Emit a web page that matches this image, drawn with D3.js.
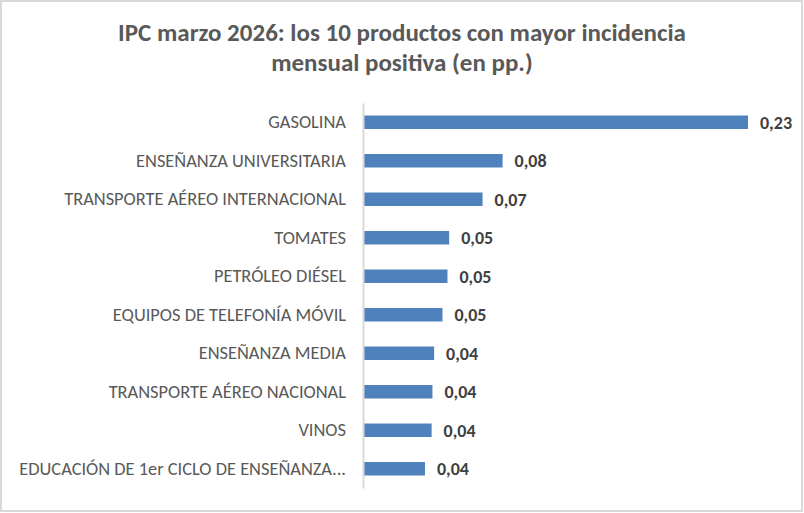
<!DOCTYPE html>
<html>
<head>
<meta charset="utf-8">
<script src="https://cdn.jsdelivr.net/npm/d3@7/dist/d3.min.js"></script>
<style>
  html, body { margin: 0; padding: 0; background: #ffffff; }
  svg { display: block; }
</style>
</head>
<body>
<svg id="chart" width="804" height="513"></svg>
<script>
const titleLines = ["IPC marzo 2026: los 10 productos con mayor incidencia", "mensual positiva (en pp.)"];
const categories = [
  "GASOLINA",
  "ENSEÑANZA UNIVERSITARIA",
  "TRANSPORTE AÉREO INTERNACIONAL",
  "TOMATES",
  "PETRÓLEO DIÉSEL",
  "EQUIPOS DE TELEFONÍA MÓVIL",
  "ENSEÑANZA MEDIA",
  "TRANSPORTE AÉREO NACIONAL",
  "VINOS",
  "EDUCACIÓN DE 1er CICLO DE ENSEÑANZA..."
];
const values = [0.23, 0.083, 0.071, 0.051, 0.050, 0.047, 0.042, 0.041, 0.0405, 0.0365];
const valueLabels = ["0,23", "0,08", "0,07", "0,05", "0,05", "0,05", "0,04", "0,04", "0,04", "0,04"];
const xDomain = [0, 0.25];

const FONT = "Carlito, Calibri, Lato, 'Open Sans', sans-serif";
const svg = d3.select("#chart");

svg.append("rect")
  .attr("x", 1).attr("y", 1).attr("width", 801).attr("height", 510)
  .attr("fill", "#ffffff").attr("stroke", "#d9d9d9").attr("stroke-width", 2);

svg.append("g").selectAll("text").data(titleLines).join("text")
  .attr("x", 402).attr("y", (d, i) => 41 + i * 29.5)
  .attr("text-anchor", "middle")
  .attr("font-family", FONT).attr("font-weight", "bold").attr("font-size", 25)
  .attr("fill", "#595959")
  .text(d => d);

const x = d3.scaleLinear().domain(xDomain).range([364, 781.4]);
const y = d3.scaleBand().domain(categories).range([103, 488]).paddingInner(0.65).paddingOuter(0.325);

const data = categories.map((c, i) => ({ c, v: values[i], l: valueLabels[i] }));

svg.append("g").selectAll("rect").data(data).join("rect")
  .attr("x", x(0)).attr("y", d => y(d.c))
  .attr("width", d => x(d.v) - x(0)).attr("height", y.bandwidth())
  .attr("fill", "#4f81bd");

const axis = svg.append("g").attr("transform", "translate(363,0)")
  .call(d3.axisLeft(y).tickSize(0).tickPadding(17));
axis.select(".domain").attr("stroke", "#d9d9d9").attr("stroke-width", 2);
axis.selectAll("text")
  .attr("font-family", FONT).attr("font-size", 18.4).attr("fill", "#595959");

svg.append("g").selectAll("text").data(data).join("text")
  .attr("x", d => x(d.v) + 12).attr("y", d => y(d.c) + y.bandwidth() / 2)
  .attr("dy", "0.36em")
  .attr("font-family", FONT).attr("font-weight", "bold").attr("font-size", 18)
  .attr("fill", "#404040")
  .text(d => d.l);
</script>
</body>
</html>
